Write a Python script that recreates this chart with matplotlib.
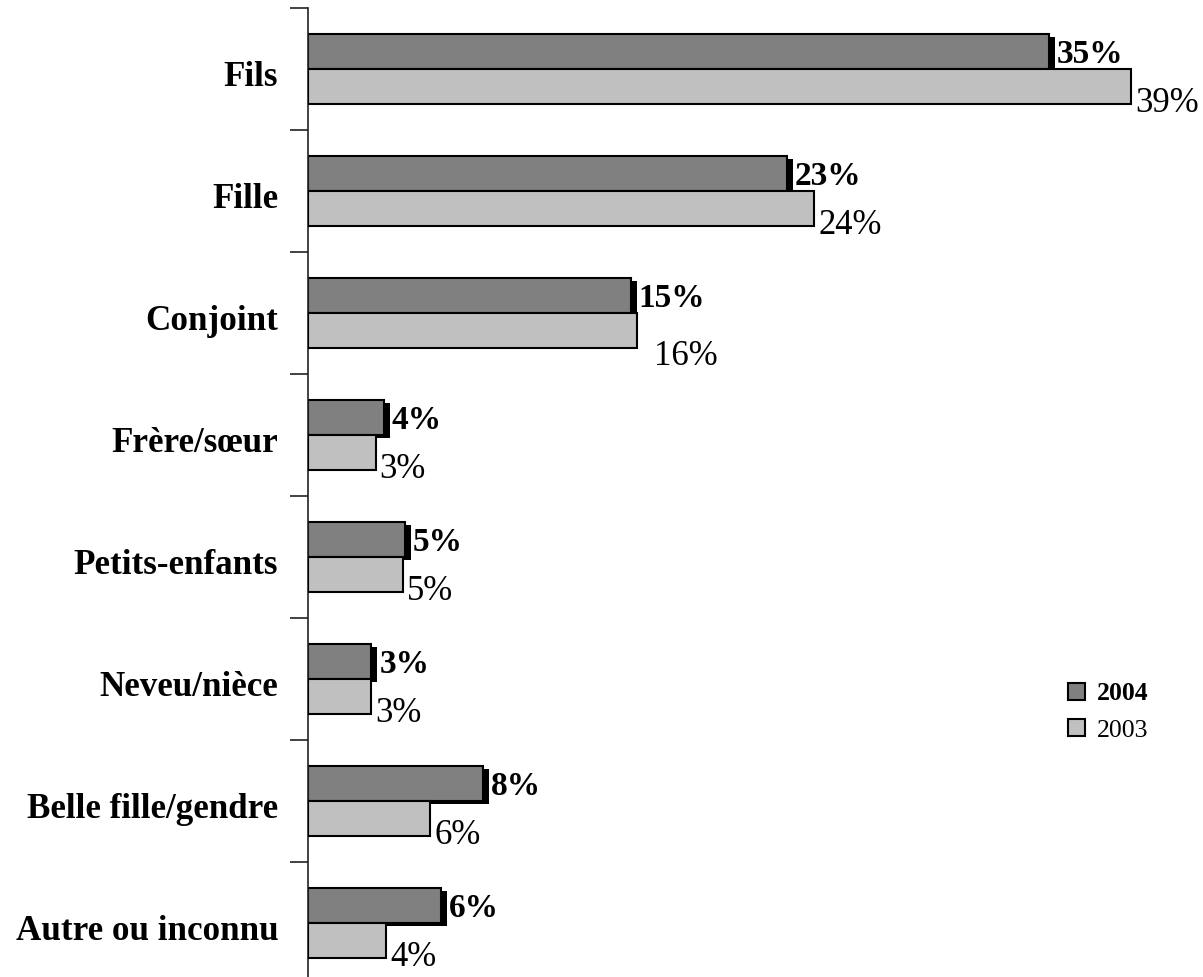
import matplotlib
matplotlib.use('Agg')
import matplotlib.pyplot as plt
import numpy as np

### DATA ###
categories = ['Fils', 'Fille', 'Conjoint', 'Frère/sœur', 'Petits-enfants',
              'Neveu/nièce', 'Belle fille/gendre', 'Autre ou inconnu']
val_2004 = [35.1, 22.7, 15.3, 3.6, 4.6, 3.0, 8.3, 6.3]
val_2003 = [39.0, 24.0, 15.6, 3.2, 4.5, 3.0, 5.8, 3.7]
lab_2004 = ['35%', '23%', '15%', '4%', '5%', '3%', '8%', '6%']
lab_2003 = ['39%', '24%', '16%', '3%', '5%', '3%', '6%', '4%']

plt.rcParams['font.family'] = ['Liberation Serif', 'DejaVu Serif']

W, H = 1203, 977
fig = plt.figure(figsize=(W / 100, H / 100), dpi=100)

# axes in pixels: left edge 308, top 8, category spacing 122 px
px_per_cat = 122
ax_left, ax_top = 308, 8
ax_h = px_per_cat * len(categories)
ax = fig.add_axes([ax_left / W, (H - ax_top - ax_h) / H, (W - ax_left) / W, ax_h / H])

px_per_pct = 21.1
ax.set_xlim(0, (W - ax_left) / px_per_pct)
ax.set_ylim(len(categories), 0)

y = np.arange(len(categories)) + 0.5
h = 0.29
dx = 6 / px_per_pct          # shadow offset in data units
dy = 3 / px_per_cat

# shadow behind 2004 bars
ax.barh(y - h / 2 + dy, val_2004, height=h, left=dx, color='black', zorder=1)
ax.barh(y - h / 2, val_2004, height=h, color='#808080', edgecolor='black',
        linewidth=1.5, zorder=2, label='2004')
ax.barh(y + h / 2, val_2003, height=h, color='#C0C0C0', edgecolor='black',
        linewidth=1.5, zorder=3, label='2003')

## value labels
for i in range(len(categories)):
    ax.text(val_2004[i] + dx + 2 / px_per_pct, y[i] - h / 2 + 3 / px_per_cat, lab_2004[i],
            ha='left', va='center', fontsize=24, fontweight='bold')
    # Conjoint 2003 label sits a bit further away in the original
    ex = 13 / px_per_pct if categories[i] == 'Conjoint' else 0
    ey = 9 / px_per_cat if categories[i] == 'Conjoint' else 0
    ax.text(val_2003[i] + 4 / px_per_pct + ex, y[i] + h / 2 + 17 / px_per_cat + ey,
            lab_2003[i], ha='left', va='center', fontsize=25)

## axes styling
for s in ['top', 'right', 'bottom']:
    ax.spines[s].set_visible(False)
ax.spines['left'].set_color('#222222')
ax.spines['left'].set_linewidth(1.2)
ax.set_xticks([])
ax.set_yticks(np.arange(len(categories) + 1))
ax.set_yticklabels([])
ax.set_yticks(y + 5 / px_per_cat, minor=True)
ax.set_yticklabels(categories, minor=True, fontsize=25.2, fontweight='bold')
ax.tick_params(axis='y', which='major', direction='out', length=13, width=1.2, color='#222222')
ax.tick_params(axis='y', which='minor', length=0, pad=21.5)

## legend
leg = ax.legend(loc='upper left', bbox_to_anchor=((1045 - ax_left) / (W - ax_left), 1 - (659 - ax_top) / ax_h),
                frameon=False, fontsize=18.5, handlelength=0.65, handleheight=0.65,
                handletextpad=0.45, labelspacing=0.55)
leg.get_texts()[0].set_fontweight('bold')

fig.savefig('out.png', dpi=100)
